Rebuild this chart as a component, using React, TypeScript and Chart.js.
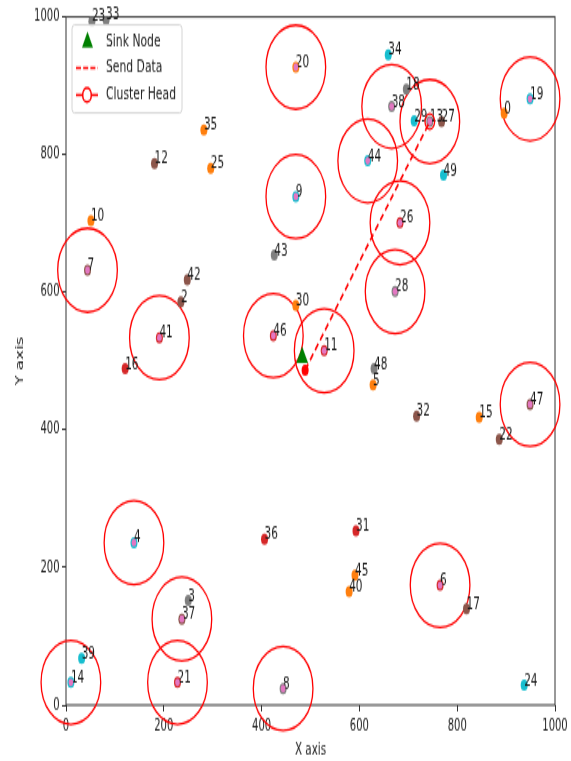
import React, { useEffect, useRef } from "react";
import { Chart, registerables } from "chart.js";

Chart.register(...registerables);

// Sensor nodes (ids, positions in the 1000 x 1000 field)
const nodeIds = [0, 2, 3, 4, 5, 6, 7, 8, 9, 10, 11, 12, 13, 14, 15, 16, 17, 18, 19, 20, 21, 22, 23, 24, 25, 26, 27, 28, 29, 30, 31, 32, 33, 34, 35, 36, 37, 38, 39, 40, 41, 42, 43, 44, 45, 46, 47, 48, 49];
const nodeX = [896, 235, 250, 139, 628, 765, 44, 444, 470, 51, 528, 181, 744, 10, 845, 121, 819, 696, 949, 470, 228, 886, 53, 937, 296, 683, 768, 673, 712, 470, 593, 717, 82, 659, 282, 406, 237, 666, 32, 579, 191, 248, 426, 617, 591, 424, 949, 630, 772];
const nodeY = [860, 586, 152, 236, 465, 174, 632, 24, 739, 704, 515, 787, 848, 33, 418, 489, 140, 895, 881, 927, 33, 386, 994, 29, 780, 701, 848, 601, 849, 581, 253, 420, 996, 945, 836, 241, 125, 870, 68, 165, 534, 618, 654, 791, 189, 537, 437, 489, 770];

// Cluster heads and their coverage radius (field units)
const clusterHeads = [20, 9, 7, 41, 46, 11, 44, 38, 13, 26, 28, 19, 47, 4, 37, 21, 14, 8, 6];
const clusterRadius = 61;

// Sink, the node that sends, and the receiving cluster head
const sinkX = [483];
const sinkY = [505];
const senderX = [489];
const senderY = [487];
const receiver = 13;

const axisTicks = [0, 200, 400, 600, 800, 1000];

const palette = ["#ff7f0e", "#d62728", "#8c564b", "#7f7f7f", "#17becf"];
const headFill = "#e377c2";
const ringRed = "#ff0000";
const FONT = "'DejaVu Sans', 'Noto Sans', sans-serif";

const W = 571;
const H = 476;
const STRETCH = 761 / H;

const posOf = (id: number) => {
  const i = nodeIds.indexOf(id);
  return { x: nodeX[i], y: nodeY[i] };
};

const fieldDecor = {
  id: "fieldDecor",
  beforeDatasetsDraw(chart: any) {
    const { ctx, chartArea, scales } = chart;
    const xs = scales.x;
    const ys = scales.y;
    ctx.save();
    // plot frame
    ctx.strokeStyle = "#333";
    ctx.lineWidth = 1;
    ctx.strokeRect(chartArea.left, chartArea.top, chartArea.right - chartArea.left, chartArea.bottom - chartArea.top);
    // coverage rings of the cluster heads
    ctx.strokeStyle = ringRed;
    ctx.lineWidth = 1.3;
    clusterHeads.forEach((id) => {
      const p = posOf(id);
      const cx = xs.getPixelForValue(p.x);
      const cy = ys.getPixelForValue(p.y);
      const rx = xs.getPixelForValue(p.x + clusterRadius) - cx;
      const ry = cy - ys.getPixelForValue(p.y + clusterRadius);
      ctx.beginPath();
      ctx.ellipse(cx, cy, rx, ry, 0, 0, Math.PI * 2);
      ctx.stroke();
    });
    ctx.restore();
  },
  afterDatasetDraw(chart: any, args: any) {
    if (args.index !== 0) return;
    const { ctx, scales } = chart;
    ctx.save();
    ctx.font = `10.5px ${FONT}`;
    ctx.fillStyle = "#1a1a1a";
    ctx.textAlign = "left";
    ctx.textBaseline = "alphabetic";
    nodeIds.forEach((id, i) => {
      const px = scales.x.getPixelForValue(nodeX[i]);
      const py = scales.y.getPixelForValue(nodeY[i]);
      ctx.fillText(String(id), px, py);
    });
    ctx.restore();
  },
  afterDraw(chart: any) {
    const { ctx } = chart;
    ctx.save();
    // legend box
    const bx = 72, by = 15.6, bw = 110, bh = 55;
    ctx.fillStyle = "rgba(255,255,255,0.85)";
    ctx.strokeStyle = "#d4d4d4";
    ctx.lineWidth = 1;
    ctx.beginPath();
    ctx.roundRect(bx, by, bw, bh, 2.5);
    ctx.fill();
    ctx.stroke();

    const rows = [25.8, 42.5, 59.4];
    // Sink Node
    ctx.fillStyle = "#008000";
    ctx.beginPath();
    ctx.moveTo(87.5, rows[0] - 6);
    ctx.lineTo(93, rows[0] + 4);
    ctx.lineTo(82, rows[0] + 4);
    ctx.closePath();
    ctx.fill();
    // Send Data
    ctx.strokeStyle = ringRed;
    ctx.lineWidth = 1.5;
    ctx.setLineDash([5, 2.2]);
    ctx.beginPath();
    ctx.moveTo(76, rows[1]);
    ctx.lineTo(98, rows[1]);
    ctx.stroke();
    ctx.setLineDash([]);
    // Cluster Head
    ctx.beginPath();
    ctx.moveTo(76, rows[2]);
    ctx.lineTo(98, rows[2]);
    ctx.stroke();
    ctx.fillStyle = "#fff";
    ctx.beginPath();
    ctx.arc(87, rows[2], 4.3, 0, Math.PI * 2);
    ctx.fill();
    ctx.stroke();

    ctx.font = `10.8px ${FONT}`;
    ctx.fillStyle = "#222";
    ctx.textAlign = "left";
    ctx.textBaseline = "middle";
    ctx.fillText("Sink Node", 106, rows[0]);
    ctx.fillText("Send Data", 106, rows[1]);
    ctx.fillText("Cluster Head", 106, rows[2]);
    ctx.restore();
  },
};

export default function App() {
  const ref = useRef<HTMLCanvasElement>(null);

  useEffect(() => {
    document.body.style.margin = "0";
    const headPts = clusterHeads.map((id) => posOf(id));
    const recv = posOf(receiver);
    const tickText = (v: any) => String(v);
    const chart = new Chart(ref.current as HTMLCanvasElement, {
      type: "scatter",
      data: {
        datasets: [
          {
            label: "Nodes",
            data: nodeIds.map((_, i) => ({ x: nodeX[i], y: nodeY[i] })),
            backgroundColor: nodeIds.map((id) => palette[id % 5]),
            borderWidth: 0,
            pointRadius: 3.5,
            order: 5,
          },
          {
            label: "Heads",
            data: headPts,
            backgroundColor: headFill,
            borderWidth: 0,
            pointRadius: 2.4,
            order: 4,
          },
          {
            label: "Send Data",
            data: [
              { x: senderX[0], y: senderY[0] },
              { x: recv.x, y: recv.y },
            ],
            showLine: true,
            borderColor: ringRed,
            borderWidth: 1.6,
            borderDash: [5, 3],
            pointRadius: 0,
            order: 3,
          },
          {
            label: "Sink Node",
            data: sinkX.map((x, i) => ({ x, y: sinkY[i] })),
            pointStyle: "triangle",
            backgroundColor: "#008000",
            borderWidth: 0,
            pointRadius: 6.8,
            order: 2,
          },
          {
            label: "Sender",
            data: senderX.map((x, i) => ({ x, y: senderY[i] })),
            backgroundColor: ringRed,
            borderWidth: 0,
            pointRadius: 3.5,
            order: 1,
          },
          {
            label: "Receiver",
            data: [{ x: recv.x, y: recv.y }],
            backgroundColor: "rgba(0,0,0,0)",
            borderColor: ringRed,
            borderWidth: 1.3,
            pointRadius: 4.8,
            order: 0,
          },
        ],
      },
      options: {
        responsive: false,
        animation: false,
        layout: { padding: { top: 10.6, right: 16, left: 0, bottom: 0 } },
        plugins: { legend: { display: false }, tooltip: { enabled: false } },
        scales: {
          x: {
            type: "linear",
            min: 0,
            max: 1000,
            afterFit: (s: any) => {
              s.height = 35;
            },
            afterBuildTicks: (s: any) => {
              s.ticks = axisTicks.map((v) => ({ value: v }));
            },
            grid: { drawOnChartArea: false, drawTicks: true, tickLength: 4, color: "#333" },
            border: { display: false },
            ticks: { font: { family: FONT, size: 10 }, color: "#222", padding: 3, maxRotation: 0, callback: tickText },
            title: { display: true, text: "X axis", font: { family: FONT, size: 10.4 }, color: "#222", padding: { top: 0, bottom: 0.8 } },
          },
          y: {
            type: "linear",
            min: 0,
            max: 1000,
            afterFit: (s: any) => {
              s.width = 66;
            },
            afterBuildTicks: (s: any) => {
              s.ticks = axisTicks.map((v) => ({ value: v }));
            },
            grid: { drawOnChartArea: false, drawTicks: true, tickLength: 4, color: "#333" },
            border: { display: false },
            ticks: { font: { family: FONT, size: 10 }, color: "#222", padding: 2.5, callback: tickText },
            title: { display: true, text: "Y axis", font: { family: FONT, size: 10.4 }, color: "#222", padding: { top: 13.8, bottom: 0 } },
          },
        },
      },
      plugins: [fieldDecor],
    } as any);
    return () => chart.destroy();
  }, []);

  return (
    <div style={{ position: "fixed", left: 0, top: 0, width: W, height: 761, background: "#fff", overflow: "hidden" }}>
      <div style={{ width: W, height: H, transform: `scaleY(${STRETCH})`, transformOrigin: "0 0" }}>
        <canvas ref={ref} width={W} height={H} />
      </div>
    </div>
  );
}
